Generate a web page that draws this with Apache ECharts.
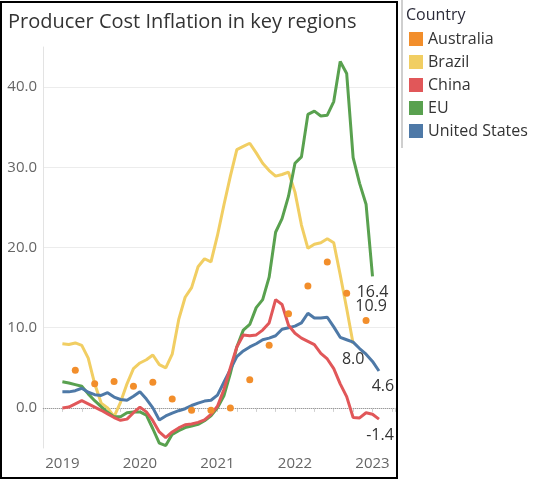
<!DOCTYPE html>
<html>
<head>
<meta charset="utf-8">
<script src="https://cdn.jsdelivr.net/npm/echarts@6/dist/echarts.min.js"></script>
<style>
  html, body { margin: 0; padding: 0; background: #fff; }
  #chart { width: 535px; height: 482px; }
</style>
</head>
<body>
<div id="chart"></div>
<script>
// monthly periods, Jan 2019 .. Feb 2023
var months = [
  '2019-01','2019-02','2019-03','2019-04','2019-05','2019-06','2019-07','2019-08','2019-09','2019-10','2019-11','2019-12',
  '2020-01','2020-02','2020-03','2020-04','2020-05','2020-06','2020-07','2020-08','2020-09','2020-10','2020-11','2020-12',
  '2021-01','2021-02','2021-03','2021-04','2021-05','2021-06','2021-07','2021-08','2021-09','2021-10','2021-11','2021-12',
  '2022-01','2022-02','2022-03','2022-04','2022-05','2022-06','2022-07','2022-08','2022-09','2022-10','2022-11','2022-12',
  '2023-01','2023-02'
];

var brazil = [8.0, 7.9, 8.1, 7.8, 6.2, 3.0, 0.6, 0.0, -1.1, 0.7, 3.0, 4.9,
  5.6, 6.0, 6.6, 5.4, 5.0, 6.7, 11.0, 13.8, 15.0, 17.6, 18.6, 18.2,
  21.5, 25.3, 28.9, 32.2, 32.6, 33.0, 31.8, 30.5, 29.6, 28.9, 29.1, 29.4,
  26.9, 22.8, 19.9, 20.4, 20.6, 21.1, 20.6, 16.6, 12.4, 8.0];

var eu = [3.25, 3.1, 2.9, 2.7, 1.75, 0.9, 0.15, -0.55, -1.1, -1.1, -0.6, -0.5,
  -0.5, -0.9, -2.6, -4.4, -4.7, -3.3, -2.85, -2.45, -2.25, -2.05, -1.6, -1.0,
  0.0, 1.5, 4.3, 7.6, 9.7, 10.4, 12.5, 13.5, 16.3, 21.9, 23.6, 26.4,
  30.5, 31.3, 36.6, 37.0, 36.4, 36.5, 38.2, 43.2, 41.7, 31.2, 28.0, 25.4,
  16.4];

var unitedStates = [2.0, 2.0, 2.15, 2.45, 1.95, 1.65, 1.55, 1.9, 1.35, 1.05, 0.95, 1.45,
  2.0, 1.1, 0.0, -1.5, -1.0, -0.65, -0.35, -0.1, 0.3, 0.6, 0.85, 0.95,
  1.6, 3.2, 4.8, 6.4, 7.1, 7.6, 8.0, 8.5, 8.7, 9.0, 9.8, 10.0,
  10.2, 10.6, 11.8, 11.2, 11.2, 11.3, 10.1, 8.8, 8.5, 8.2, 7.4, 6.7,
  5.8, 4.6];

var china = [0.0, 0.1, 0.5, 0.9, 0.5, 0.1, -0.3, -0.75, -1.2, -1.55, -1.4, -0.6,
  0.1, -0.5, -1.6, -3.0, -3.7, -3.0, -2.5, -2.1, -2.0, -1.8, -1.5, -0.8,
  0.2, 2.3, 5.0, 7.6, 9.1, 9.0, 9.1, 9.7, 10.6, 13.5, 12.9, 10.3,
  9.3, 8.7, 8.3, 7.9, 6.8, 6.1, 4.9, 3.0, 1.4, -1.2, -1.25, -0.6,
  -0.8, -1.4];

// Australia is quarterly
var australiaQuarters = ['2019-03','2019-06','2019-09','2019-12','2020-03','2020-06','2020-09','2020-12',
  '2021-03','2021-06','2021-09','2021-12','2022-03','2022-06','2022-09','2022-12'];
var australia = [4.7, 3.0, 3.3, 2.7, 3.2, 1.1, -0.3, -0.3, 0.0, 3.5, 7.8, 11.75, 15.2, 18.2, 14.3, 10.9];

var yearTicks = [2019, 2020, 2021, 2022, 2023];

var colors = {
  'Australia': '#f28e2b',
  'Brazil': '#f1ce63',
  'China': '#e15759',
  'EU': '#59a14f',
  'United States': '#4e79a7'
};

// where each end label sits relative to its last point
var endLabelStyle = {
  'Australia': { position: 'top', distance: 3, offset: [5, 0] },
  'Brazil': { position: 'bottom', distance: 8, offset: [0, 0] },
  'China': { position: 'bottom', distance: 8, offset: [1, 0] },
  'EU': { position: 'bottom', distance: 8, offset: [0, 0] },
  'United States': { position: 'bottom', distance: 7, offset: [4, 0] }
};

function toYear(m) {
  var p = m.split('-');
  return +p[0] + (+p[1] - 1) / 12;
}

function buildData(name, periods, values) {
  var out = [];
  for (var i = 0; i < values.length; i++) {
    out.push({ value: [toYear(periods[i]), values[i]] });
  }
  var last = out[out.length - 1];
  var s = endLabelStyle[name];
  last.label = {
    show: true,
    position: s.position,
    distance: s.distance,
    offset: s.offset,
    color: '#333',
    fontSize: 16,
    fontFamily: 'Open Sans',
    formatter: function (p) { return p.value[1].toFixed(1); }
  };
  return out;
}

function lineSeries(name, values, z) {
  return {
    name: name,
    type: 'line',
    data: buildData(name, months, values),
    color: colors[name],
    symbol: 'circle',
    symbolSize: 0,
    showSymbol: true,
    lineStyle: { width: 3 },
    z: z,
    animation: false
  };
}

var series = [
  {
    name: 'Australia',
    type: 'scatter',
    data: buildData('Australia', australiaQuarters, australia),
    color: colors['Australia'],
    itemStyle: { opacity: 1 },
    symbolSize: 7,
    z: 5,
    animation: false
  },
  lineSeries('Brazil', brazil, 2),
  lineSeries('EU', eu, 2),
  lineSeries('United States', unitedStates, 2),
  lineSeries('China', china, 2)
];

// zero line (dotted)
series[1].markLine = {
  silent: true,
  symbol: 'none',
  label: { show: false },
  lineStyle: { color: '#9a9a9a', type: 'dotted', width: 1 },
  data: [{ yAxis: 0 }],
  z: 1,
  animation: false
};

var option = {
  backgroundColor: '#fff',
  animation: false,
  textStyle: { fontFamily: 'Open Sans' },
  title: [{
    text: 'Producer Cost Inflation in key regions',
    left: 3,
    top: 7,
    textStyle: { fontSize: 20, fontWeight: 'normal', color: '#333', fontFamily: 'Open Sans' }
  }, {
    text: 'Country',
    left: 401,
    top: 2,
    textStyle: { fontSize: 16, fontWeight: 'normal', color: '#2b2b3a', fontFamily: 'Open Sans' }
  }],
  legend: {
    orient: 'vertical',
    left: 404,
    top: 26,
    icon: 'rect',
    itemWidth: 14,
    itemHeight: 14,
    itemGap: 7,
    selectedMode: false,
    data: ['Australia', 'Brazil', 'China', 'EU', 'United States'],
    textStyle: { fontSize: 16, color: '#333', fontFamily: 'Open Sans' }
  },
  grid: { left: 43, right: 140, top: 47, bottom: 34 },
  xAxis: {
    type: 'value',
    min: 2018.75,
    max: 2023.29,
    interval: 0.25,
    axisLine: { show: true, lineStyle: { color: '#d9d9d9', width: 1 } },
    axisTick: { show: true, length: 4, lineStyle: { color: '#d0d0d0' } },
    splitLine: { show: false },
    axisLabel: {
      color: '#666',
      fontSize: 15,
      margin: 8,
      formatter: function (v) {
        return yearTicks.indexOf(Math.round(v * 100) / 100) >= 0 ? String(v) : '';
      }
    }
  },
  yAxis: {
    type: 'value',
    min: -5,
    max: 45,
    interval: 5,
    axisLine: { show: true, lineStyle: { color: '#e3e3e3', width: 1 } },
    axisTick: { show: false },
    splitLine: { show: true, lineStyle: { color: ['rgba(0,0,0,0)', '#ececec'], width: 1 } },
    axisLabel: {
      color: '#666',
      fontSize: 15,
      margin: 6,
      formatter: function (v) {
        return (v % 10 === 0) ? v.toFixed(1) : '';
      }
    }
  },
  graphic: [
    {
      type: 'rect',
      silent: true,
      shape: { x: 1, y: 2, width: 396, height: 476 },
      style: { fill: 'none', stroke: '#000', lineWidth: 2 },
      z: 100
    },
    {
      type: 'line',
      silent: true,
      shape: { x1: 402, y1: 0, x2: 402, y2: 148 },
      style: { stroke: '#cfcfcf', lineWidth: 2 },
      z: 100
    }
  ],
  series: series
};

var myChart = echarts.init(document.getElementById('chart'));
myChart.setOption(option);
</script>
</body>
</html>
